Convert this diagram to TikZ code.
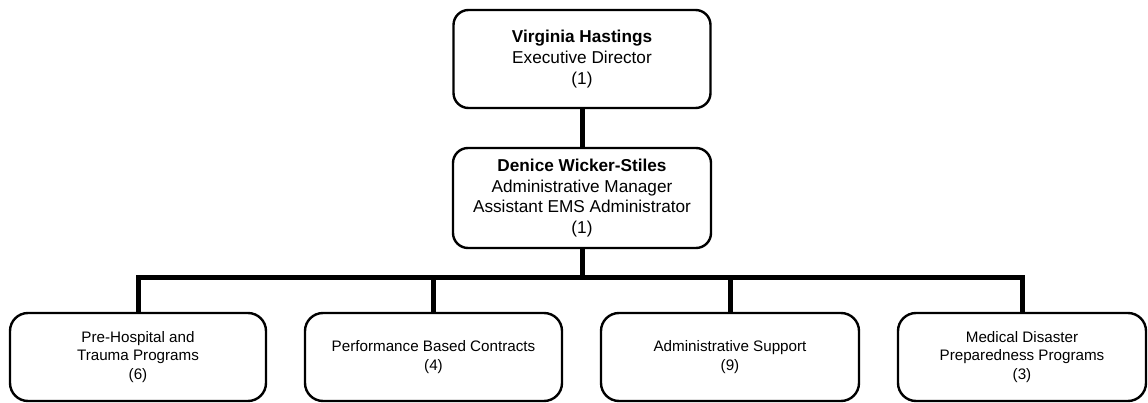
\documentclass[tikz,border=0pt]{standalone}
\usepackage{fontspec}
\setmainfont{Liberation Sans}
\begin{document}
\begin{tikzpicture}[x=1pt,y=-1pt,
  bigbox/.style={draw=black, line width=2.4pt, rounded corners=15pt, rectangle, align=center,
    inner sep=0pt, font=\fontsize{17.2}{20.6}\selectfont},
  smallbox/.style={draw=black, line width=2.4pt, rounded corners=18pt, rectangle, align=center,
    inner sep=0pt, minimum height=88pt, font=\fontsize{15.2}{18.4}\selectfont},
  conn/.style={draw=black, line width=5pt}]
\useasboundingbox (0,0) rectangle (1148,403);
\node[bigbox, minimum width=257pt, minimum height=98pt] (top) at (582,59)
  {\textbf{Virginia Hastings}\\Executive Director\\(1)};
\node[bigbox, minimum width=258pt, minimum height=100pt] (mid) at (582,198)
  {\textbf{Denice Wicker-Stiles}\\Administrative Manager\\Assistant EMS Administrator\\(1)};
\node[smallbox, minimum width=256pt] (b1) at (138,357)
  {Pre-Hospital and\\Trauma Programs\\(6)};
\node[smallbox, minimum width=257pt] (b2) at (433.5,357)
  {Performance Based Contracts\\(4)};
\node[smallbox, minimum width=258pt] (b3) at (730,357)
  {Administrative Support\\(9)};
\node[smallbox, minimum width=248pt] (b4) at (1022,357)
  {Medical Disaster\\Preparedness Programs\\(3)};
\coordinate (bar) at (582,278);
\draw[conn] (top.south) -- (mid.north);
\draw[conn] (mid.south) -- (bar);
\draw[conn] (b1.north) |- (bar) -| (b4.north);
\draw[conn] (b2.north) -- (b2.north |- bar);
\draw[conn] (b3.north) -- (b3.north |- bar);
\end{tikzpicture}
\end{document}
